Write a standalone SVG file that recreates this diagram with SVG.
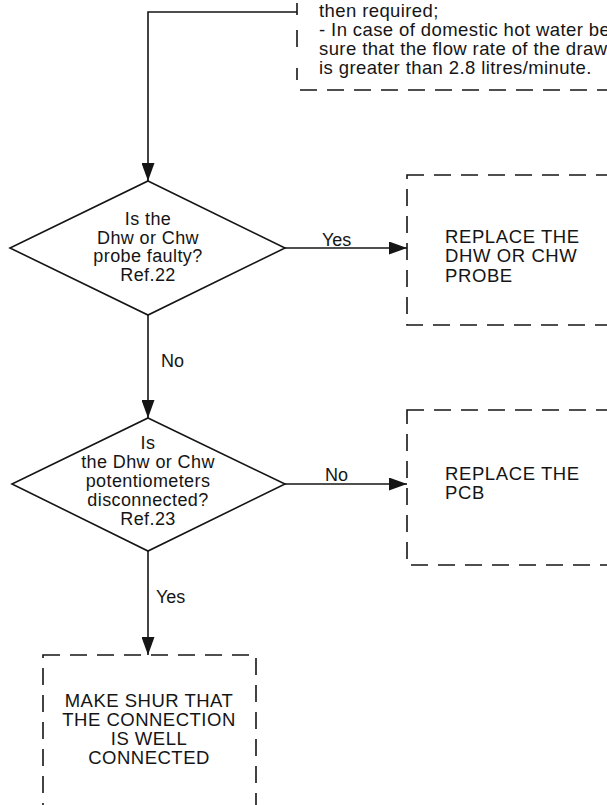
<svg xmlns="http://www.w3.org/2000/svg" width="607" height="805" viewBox="0 0 607 805">
<style>
.ln{stroke:#151515;stroke-width:1.6;fill:none}
.ds{stroke:#151515;stroke-width:1.6;fill:none;stroke-dasharray:17 10}
.sh{stroke:#151515;stroke-width:1.6;fill:#fff}
text{font-family:"Liberation Sans",Arial,Helvetica,sans-serif;fill:#151515}
.t{font-size:18.5px;letter-spacing:0.4px}
.d{font-size:18px;text-anchor:middle;letter-spacing:0.4px}
.b{font-size:18.5px;letter-spacing:0.6px}
.bc{font-size:18.5px;letter-spacing:0.5px;text-anchor:middle}
.l{font-size:18px}
</style>
<defs>
<marker id="ah" markerUnits="userSpaceOnUse" markerWidth="18" markerHeight="13" viewBox="0 0 18 13" refX="18" refY="6.5" orient="auto">
<path d="M0,0 L18,6.5 L0,13 z" fill="#151515"/>
</marker>
</defs>
<rect width="607" height="805" fill="#fff"/>

<g id="note">
<line class="ln" x1="297" y1="3" x2="297" y2="15"/>
<line class="ln" x1="297" y1="30" x2="297" y2="47"/>
<line class="ln" x1="297" y1="68" x2="297" y2="80"/>
<line class="ds" x1="300" y1="90" x2="607" y2="90"/>
<text class="t" x="319" y="17">then required;</text>
<text class="t" x="319" y="36">- In case of domestic hot water be</text>
<text class="t" x="319" y="55">sure that the flow rate of the draw</text>
<text class="t" x="319" y="74">is greater than 2.8 litres/minute.</text>
</g>

<g id="q1">
<polygon class="sh" points="148,181 285,248 148,315 10,248"/>
<text class="d" x="148" y="225">Is the</text>
<text class="d" x="148" y="243.5">Dhw or Chw</text>
<text class="d" x="148" y="262">probe faulty?</text>
<text class="d" x="148" y="280.5">Ref.22</text>
</g>

<g id="a1">
<rect class="ds" x="407" y="175" width="230" height="150"/>
<text class="b" x="445" y="243">REPLACE THE</text>
<text class="b" x="445" y="262">DHW OR CHW</text>
<text class="b" x="445" y="282">PROBE</text>
</g>

<g id="q2">
<polygon class="sh" points="148,418 285,484 148,551 12,484"/>
<text class="d" x="148" y="449">Is</text>
<text class="d" x="148" y="468">the Dhw or Chw</text>
<text class="d" x="148" y="487">potentiometers</text>
<text class="d" x="148" y="506">disconnected?</text>
<text class="d" x="148" y="525">Ref.23</text>
</g>

<g id="a2">
<rect class="ds" x="407" y="410" width="230" height="155"/>
<text class="b" x="445" y="480">REPLACE THE</text>
<text class="b" x="445" y="499">PCB</text>
</g>

<g id="a3">
<rect class="ds" x="43" y="655" width="213" height="180"/>
<text class="bc" x="149" y="707">MAKE SHUR THAT</text>
<text class="bc" x="149" y="726">THE CONNECTION</text>
<text class="bc" x="149" y="745">IS WELL</text>
<text class="bc" x="149" y="764">CONNECTED</text>
</g>

<g id="connectors">
<path class="ln" d="M297,12 H148 V181" marker-end="url(#ah)"/>
<path class="ln" d="M285,248 H407" marker-end="url(#ah)"/>
<path class="ln" d="M148,315 V418" marker-end="url(#ah)"/>
<path class="ln" d="M285,484 H407" marker-end="url(#ah)"/>
<path class="ln" d="M148,551 V655" marker-end="url(#ah)"/>
<text class="l" x="322" y="246">Yes</text>
<text class="l" x="161" y="367">No</text>
<text class="l" x="325" y="481">No</text>
<text class="l" x="156" y="603">Yes</text>
</g>
</svg>
